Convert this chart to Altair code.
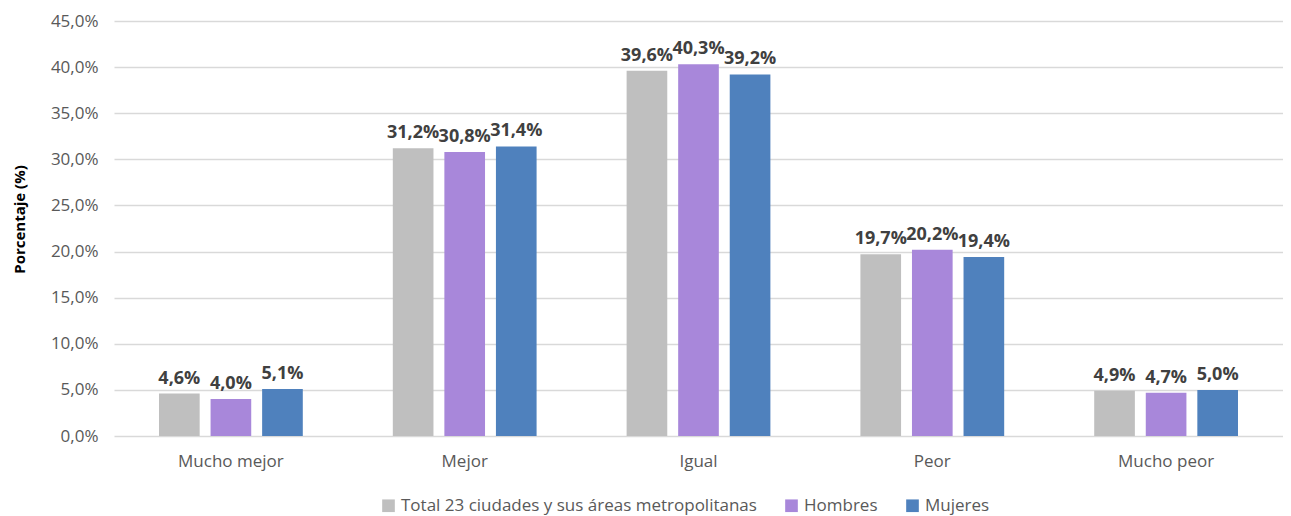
import altair as alt
import pandas as pd

categories = ["Mucho mejor", "Mejor", "Igual", "Peor", "Mucho peor"]
series = ["Total 23 ciudades y sus áreas metropolitanas", "Hombres", "Mujeres"]
total = [4.6, 31.2, 39.6, 19.7, 4.9]
hombres = [4.0, 30.8, 40.3, 20.2, 4.7]
mujeres = [5.1, 31.4, 39.2, 19.4, 5.0]
colors = ["#BFBFBF", "#A887DA", "#4F81BD"]

rows = []
for s, vals in zip(series, [total, hombres, mujeres]):
    for c, v in zip(categories, vals):
        rows.append({"cat": c, "serie": s, "val": v})
df = pd.DataFrame(rows)

FONT = "Open Sans"

base = alt.Chart(df).encode(
    x=alt.X("cat:N", sort=categories, title=None,
            scale=alt.Scale(paddingInner=0.385, paddingOuter=0.1925),
            axis=alt.Axis(labelAngle=0, labelFontSize=17, labelColor="#595959",
                          labelFont=FONT, ticks=False, domain=False, labelPadding=17)),
    xOffset=alt.XOffset("serie:N", sort=series,
                        scale=alt.Scale(paddingInner=0.2115, paddingOuter=0)),
    y=alt.Y("val:Q", title="Porcentaje (%)",
            scale=alt.Scale(domain=[0, 45], nice=False),
            axis=alt.Axis(values=[0, 5, 10, 15, 20, 25, 30, 35, 40, 45],
                          labelExpr="replace(format(datum.value, '.1f'), '.', ',') + '%'",
                          labelFontSize=17, labelColor="#595959", labelFont=FONT,
                          ticks=False, domain=False, labelPadding=16,
                          gridColor="#D9D9D9", gridWidth=1.3,
                          titleFont=FONT, titleFontSize=15, titleFontWeight="bold",
                          titleColor="#000000", titleX=-95, titleY=198,
                          titleBaseline="middle")),
)

bars = base.mark_bar().encode(
    color=alt.Color("serie:N", sort=series,
                    scale=alt.Scale(domain=series, range=colors),
                    legend=alt.Legend(title=None, orient="none", direction="horizontal",
                                      legendX=266, legendY=476,
                                      symbolType="square", symbolSize=160,
                                      symbolStrokeWidth=0, labelLimit=0,
                                      labelFont=FONT, labelFontSize=17, labelColor="#595959",
                                      columnPadding=26, labelOffset=4, padding=0))
)

labels = base.transform_calculate(
    lbl="replace(format(datum.val, '.1f'), '.', ',') + '%'"
).mark_text(baseline="bottom", dy=-6, font=FONT, fontSize=18, fontWeight="bold",
            color="#404040").encode(text="lbl:N")

chart = (bars + labels).properties(
    width=1169, height=415,
    autosize=alt.AutoSizeParams(type="none"),
    padding={"left": 106, "top": 13, "right": 0, "bottom": 80},
).configure_view(stroke=None)

chart.save("out.html", embed_options={"renderer": "svg", "actions": False})
